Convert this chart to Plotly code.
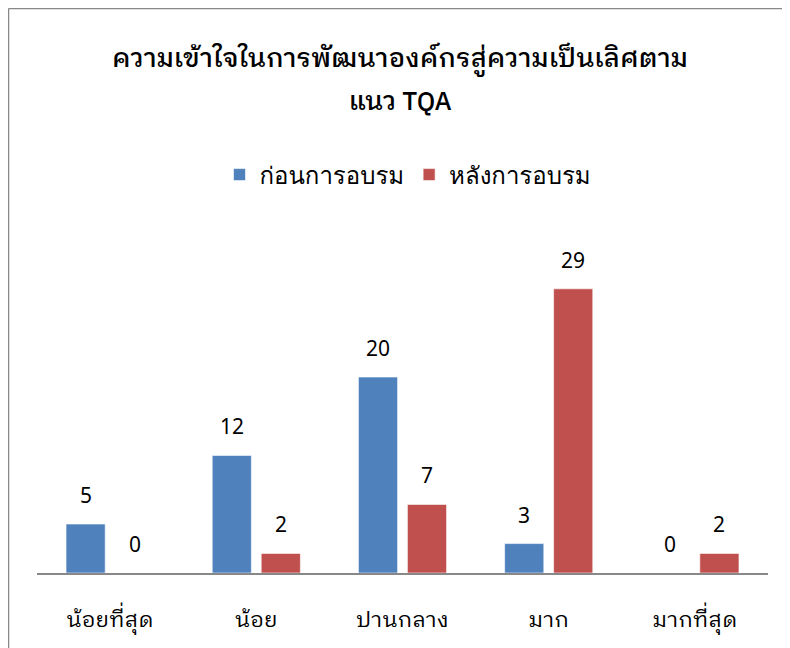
import plotly.graph_objects as go

categories = ["น้อยที่สุด", "น้อย", "ปานกลาง", "มาก", "มากที่สุด"]
before_name = "ก่อนการอบรม"
after_name = "หลังการอบรม"
before_vals = [5, 12, 20, 3, 0]
after_vals = [0, 2, 7, 29, 2]
title_lines = ["ความเข้าใจในการพัฒนาองค์กรสู่ความเป็นเลิศตาม", "แนว TQA"]

BLUE = "#4F81BD"
RED = "#C0504D"
TITLE_FONT = "IBM Plex Sans Thai Looped, Noto Sans Thai Looped, Noto Sans, sans-serif"
LEGEND_FONT = "Loma, Noto Sans Thai Looped, sans-serif"
TICK_FONT = "IBM Plex Sans Thai Looped, Noto Sans Thai Looped, sans-serif"
LABEL_FONT = "Noto Sans, Open Sans, sans-serif"

# page body has an 8px margin: all pixel targets below are in figure coordinates
W, H = 790, 648
L, R, T, B = 29, 30, 222, 83
PW, PH = W - L - R, H - T - B

def px_x(px):
    return (px - L) / PW

def px_y(py):
    return (H - B - py) / PH

fig = go.Figure()
fig.add_trace(go.Bar(x=categories, y=before_vals, name=before_name,
                     marker=dict(color=BLUE, line=dict(color="rgba(255,255,255,0.6)", width=1))))
fig.add_trace(go.Bar(x=categories, y=after_vals, name=after_name,
                     marker=dict(color=RED, line=dict(color="rgba(255,255,255,0.6)", width=1))))

annotations = []
for cat, bv, av in zip(categories, before_vals, after_vals):
    annotations.append(dict(x=cat, y=bv, xref="x", yref="y", text=str(bv), showarrow=False,
                            xshift=-24.5, yshift=29, yanchor="middle",
                            font=dict(size=21, color="#000", family=LABEL_FONT)))
    annotations.append(dict(x=cat, y=av, xref="x", yref="y", text=str(av), showarrow=False,
                            xshift=24.5, yshift=29, yanchor="middle",
                            font=dict(size=21, color="#000", family=LABEL_FONT)))

for line, py in zip(title_lines, [52, 94]):
    annotations.append(dict(x=px_x(392), y=px_y(py), xref="paper", yref="paper", text=line,
                            showarrow=False, xanchor="center", yanchor="middle",
                            font=dict(size=26, color="#000", family=TITLE_FONT, weight=500)))

shapes = [
    dict(type="line", xref="paper", yref="paper", x0=px_x(0.5), x1=px_x(0.5), y0=px_y(0.5), y1=px_y(650),
         line=dict(color="#888888", width=1.5)),
    dict(type="line", xref="paper", yref="paper", x0=px_x(0.5), x1=px_x(792), y0=px_y(0.5), y1=px_y(0.5),
         line=dict(color="#888888", width=1.5)),
]

fig.update_layout(
    width=W, height=H,
    margin=dict(l=L, r=R, t=T, b=B, pad=0),
    paper_bgcolor="white", plot_bgcolor="white",
    barmode="group", bargap=0.33, bargroupgap=0.2,
    showlegend=True,
    legend=dict(orientation="h", x=px_x(400), y=px_y(167), xanchor="center", yanchor="middle",
                font=dict(size=24, color="#000", family=LEGEND_FONT), itemwidth=30, traceorder="normal"),
    xaxis=dict(showgrid=False, showline=True, linecolor="#888888", linewidth=2, ticks="",
               tickfont=dict(size=22, color="#000", family=TICK_FONT, weight=400), ticklabelstandoff=26),
    yaxis=dict(range=[0, 35], visible=False, showgrid=False, zeroline=False),
    annotations=annotations,
    shapes=shapes,
)

fig.write_html("out.html")
